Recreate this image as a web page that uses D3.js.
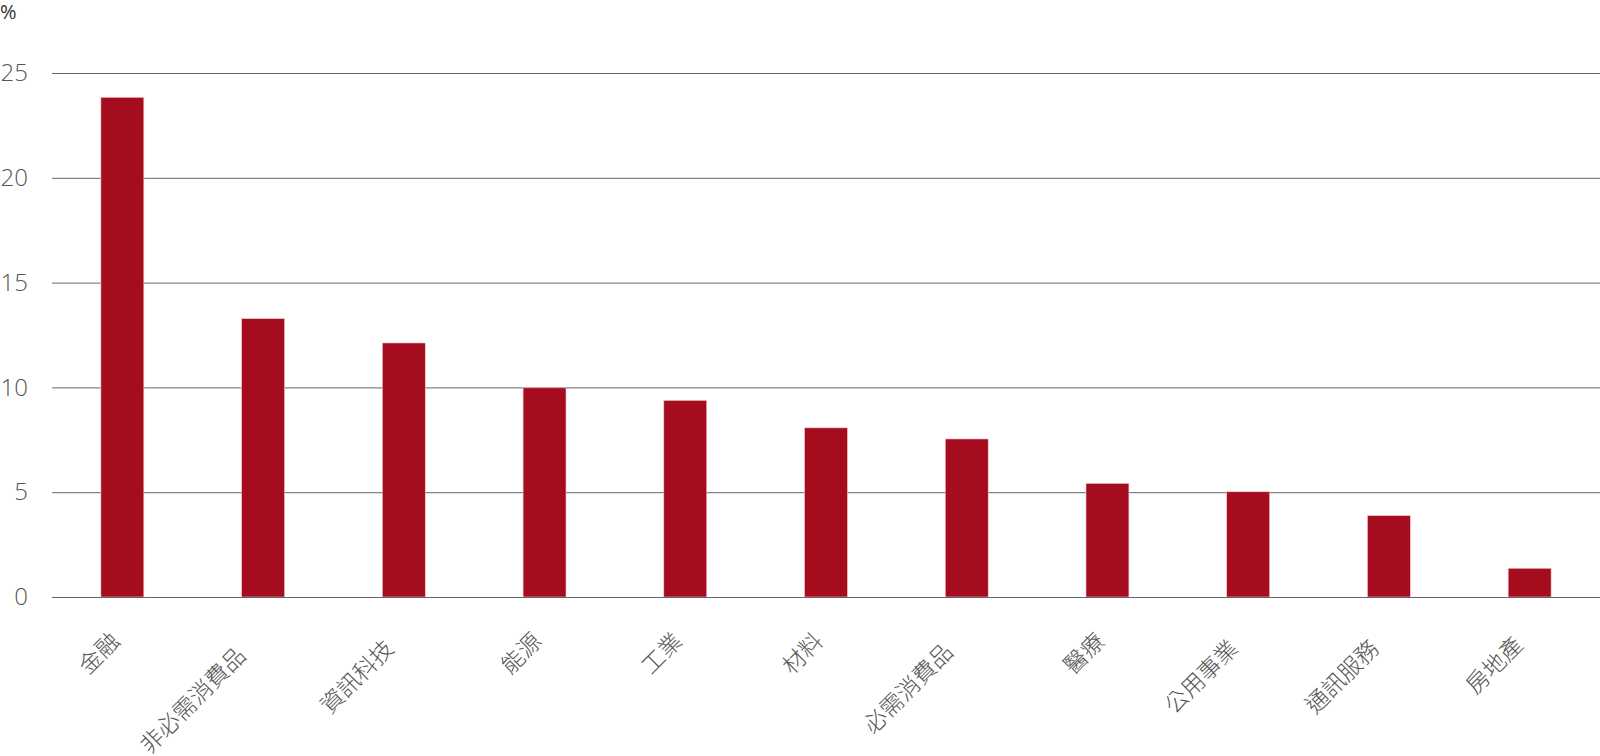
<!DOCTYPE html>
<html>
<head>
<meta charset="utf-8">
<script src="https://cdn.jsdelivr.net/npm/d3@7"></script>
<style>
  html, body { margin: 0; padding: 0; background: #fff; }
  svg { display: block; }
</style>
</head>
<body>
<svg id="chart" width="1600" height="756"></svg>
<script>
const categories = ["金融", "非必需消費品", "資訊科技", "能源", "工業", "材料", "必需消費品", "醫療", "公用事業", "通訊服務", "房地產"];
const values = [23.84, 13.28, 12.12, 9.98, 9.38, 8.07, 7.54, 5.42, 5.02, 3.88, 1.37];
const yTicks = [0, 5, 10, 15, 20, 25];
const unitLabel = "%";

const svg = d3.select("#chart");
const margin = { left: 52, right: 0, top: 73, bottom: 159 };
const W = 1600, H = 756;

const x = d3.scaleBand()
  .domain(categories)
  .range([margin.left, W - margin.right])
  .paddingInner(0.695)
  .paddingOuter(0.3475);

const y = d3.scaleLinear()
  .domain([0, 25])
  .range([H - margin.bottom, margin.top]);

// gridlines
const yAxis = d3.axisLeft(y)
  .tickValues(yTicks)
  .tickSize(-(W - margin.left - margin.right))
  .tickPadding(24)
  .tickFormat(d3.format("d"));

const gy = svg.append("g")
  .attr("transform", `translate(${margin.left},0)`)
  .call(yAxis);
gy.select(".domain").remove();
gy.selectAll(".tick line").attr("stroke", "#666").attr("stroke-width", 1);
gy.selectAll(".tick text")
  .attr("fill", "#555")
  .style("font-family", "'Open Sans', sans-serif")
  .style("font-weight", 300)
  .style("font-size", "24px");

// bars
svg.append("g").selectAll("rect")
  .data(categories)
  .join("rect")
  .attr("x", d => x(d))
  .attr("width", x.bandwidth())
  .attr("y", (d, i) => y(values[i]))
  .attr("height", (d, i) => y(0) - y(values[i]))
  .attr("fill", "#A50D1E")
  .attr("stroke", "#f3c6cb")
  .attr("stroke-width", 0.6);

// baseline redraw on top
svg.append("line")
  .attr("x1", margin.left).attr("x2", W - margin.right)
  .attr("y1", y(0) + 0.5).attr("y2", y(0) + 0.5)
  .attr("stroke", "#666").attr("stroke-width", 1);

// x labels
const xAxis = d3.axisBottom(x).tickSize(0).tickPadding(0);
const gx = svg.append("g")
  .attr("transform", `translate(0,${y(0)})`)
  .call(xAxis);
gx.select(".domain").remove();
gx.selectAll(".tick text")
  .attr("fill", "#555")
  .style("font-family", "'Noto Sans CJK TC', sans-serif")
  .style("font-weight", 300)
  .style("font-size", "23px")
  .attr("text-anchor", "middle")
  .attr("dy", "0.35em")
  .attr("y", 0)
  .each(function() {
    const L = this.getComputedTextLength();
    d3.select(this)
      .attr("x", -0.72 * L)
      .attr("transform", "translate(0,33) rotate(-45)");
  });

// unit label
svg.append("text")
  .attr("x", 0)
  .attr("y", 19)
  .attr("fill", "#333")
  .style("font-family", "'Open Sans', sans-serif")
  .style("font-size", "20px")
  .text(unitLabel);
</script>
</body>
</html>
